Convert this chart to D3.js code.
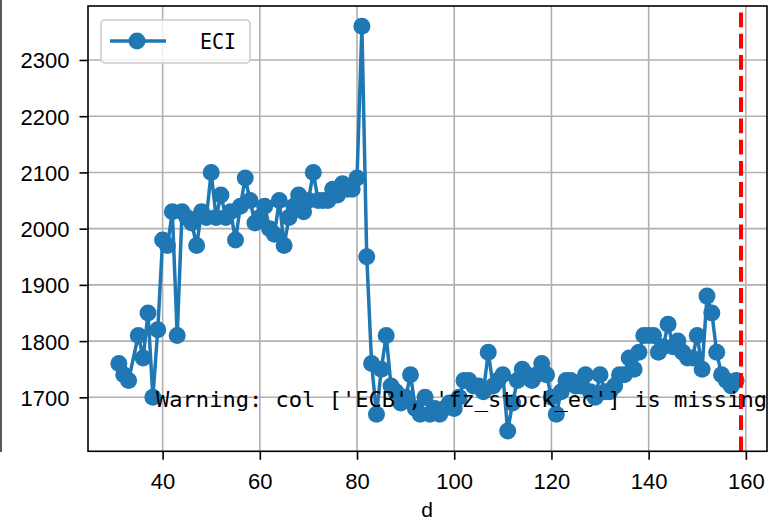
<!DOCTYPE html>
<html>
<head>
<meta charset="utf-8">
<script src="https://cdn.jsdelivr.net/npm/d3@7"></script>
<style>
  html, body { margin: 0; padding: 0; background: #fff; }
  svg { display: block; }
</style>
</head>
<body>
<svg id="chart" width="775" height="522"></svg>
<script>
// ---- data ----
const days = [31, 32, 33].concat(d3.range(35, 159)); // 31..158, no 34
const eciValues = [
  1760, 1740, 1730,                                           // 31-33
  1810, 1770, 1850, 1700, 1820, 1980,                         // 35-40
  1970, 2030, 1810, 2030, 2020, 2010, 1970, 2030, 2020, 2100, // 41-50
  2020, 2060, 2020, 2030, 1980, 2040, 2090, 2050, 2010, 2020, // 51-60
  2040, 2000, 1990, 2050, 1970, 2020, 2040, 2060, 2030, 2050, // 61-70
  2100, 2050, 2050, 2050, 2070, 2060, 2080, 2070, 2070, 2090, // 71-80
  2360, 1950, 1760, 1670, 1750, 1810, 1720, 1710, 1690, 1700, // 81-90
  1740, 1680, 1670, 1700, 1670, 1680, 1670, 1680, 1690, 1680, // 91-100
  1700, 1730, 1730, 1720, 1720, 1710, 1780, 1720, 1730, 1740, // 101-110
  1640, 1690, 1730, 1750, 1740, 1730, 1740, 1760, 1740, 1700, // 111-120
  1670, 1710, 1730, 1730, 1720, 1720, 1740, 1710, 1700, 1740, // 121-130
  1710, 1710, 1720, 1740, 1740, 1770, 1750, 1780, 1810, 1810, // 131-140
  1810, 1780, 1790, 1830, 1790, 1800, 1780, 1770, 1770, 1810, // 141-150
  1750, 1880, 1850, 1780, 1740, 1730, 1720, 1730              // 151-158
];
const seriesName = "ECI";
const xTicks = [40, 60, 80, 100, 120, 140, 160];
const yTicks = [1700, 1800, 1900, 2000, 2100, 2200, 2300];
const markerDay = 159;
const xLabel = "d";
const warningText = "Warning: col ['ECB', 'fz_stock_ec'] is missing";

// ---- layout ----
const L = 88, R = 767, T = 6, B = 451.3;
const svg = d3.select("#chart");
const blue = "#1f77b4";

const points = days.map((d, i) => ({ d, v: eciValues[i] }));

function padded(ext) {
  const p = (ext[1] - ext[0]) * 0.05;
  return [ext[0] - p, ext[1] + p];
}
const x = d3.scaleLinear().domain(padded(d3.extent(days))).range([L, R]);
const y = d3.scaleLinear().domain(padded(d3.extent(eciValues))).range([B, T]);

// stray left border line
svg.append("line").attr("x1", 1).attr("x2", 1).attr("y1", 0).attr("y2", 452)
  .attr("stroke", "#222").attr("stroke-width", 1.5);

// grid
const grid = svg.append("g");
grid.selectAll(".gx").data(xTicks).join("line")
  .attr("x1", d => x(d)).attr("x2", d => x(d)).attr("y1", T).attr("y2", B)
  .attr("stroke", "#b0b0b0").attr("stroke-width", 1.6);
grid.selectAll(".gy").data(yTicks).join("line")
  .attr("x1", L).attr("x2", R).attr("y1", d => y(d)).attr("y2", d => y(d))
  .attr("stroke", "#b0b0b0").attr("stroke-width", 1.6);

// series
const line = d3.line().x(p => x(p.d)).y(p => y(p.v));
svg.append("path").datum(points).attr("d", line)
  .attr("fill", "none").attr("stroke", blue).attr("stroke-width", 3.5)
  .attr("stroke-linejoin", "round");
svg.append("g").selectAll("circle").data(points).join("circle")
  .attr("cx", p => x(p.d)).attr("cy", p => y(p.v)).attr("r", 8.5)
  .attr("fill", blue);

// red dashed vertical line (drawn bottom-up so dashes start at bottom)
svg.append("line")
  .attr("x1", x(markerDay)).attr("x2", x(markerDay)).attr("y1", B).attr("y2", T)
  .attr("stroke", "#ff0000").attr("stroke-width", 4)
  .attr("stroke-dasharray", "14.8,6.4");

// warning text
svg.append("text").attr("x", 156).attr("y", 407)
  .attr("font-family", "DejaVu Sans Mono").attr("font-size", 22)
  .attr("textLength", 611).attr("lengthAdjust", "spacingAndGlyphs")
  .attr("fill", "#000").text(warningText);

// axes
const xAxis = d3.axisBottom(x).tickValues(xTicks).tickSize(8.5).tickPadding(10).tickFormat(d3.format("d"));
const yAxis = d3.axisLeft(y).tickValues(yTicks).tickSize(8.5).tickPadding(10).tickFormat(d3.format("d"));
const gx = svg.append("g").attr("transform", `translate(0,${B})`).call(xAxis);
const gy = svg.append("g").attr("transform", `translate(${L},0)`).call(yAxis);
[gx, gy].forEach(g => {
  g.select(".domain").remove();
  g.selectAll(".tick line").attr("stroke", "#000").attr("stroke-width", 1.6);
  g.selectAll(".tick text").attr("fill", "#000")
    .attr("font-family", "Liberation Sans, Arial, sans-serif").attr("font-size", 22);
});
gx.selectAll(".tick text").attr("dy", null).attr("y", 38);
gy.selectAll(".tick text").attr("dy", "0.36em");

// spines
svg.append("rect").attr("x", L).attr("y", T).attr("width", R - L).attr("height", B - T)
  .attr("fill", "none").attr("stroke", "#000").attr("stroke-width", 1.6);

// x label
svg.append("text").attr("x", (L + R) / 2 - 0.5).attr("y", 517).attr("text-anchor", "middle")
  .attr("font-family", "Liberation Sans, Arial, sans-serif").attr("font-size", 21)
  .attr("fill", "#000").text(xLabel);

// legend
const lg = svg.append("g");
lg.append("rect").attr("x", 101).attr("y", 20).attr("width", 149).attr("height", 43)
  .attr("rx", 4).attr("fill", "#fff").attr("fill-opacity", 0.8)
  .attr("stroke", "#cccccc").attr("stroke-width", 1.6);
lg.append("line").attr("x1", 110).attr("x2", 166).attr("y1", 41).attr("y2", 41)
  .attr("stroke", blue).attr("stroke-width", 3.5);
lg.append("circle").attr("cx", 137).attr("cy", 41).attr("r", 8.5).attr("fill", blue);
lg.append("text").attr("x", 200).attr("y", 49)
  .attr("font-family", "DejaVu Sans Mono").attr("font-size", 22)
  .attr("textLength", 36).attr("lengthAdjust", "spacingAndGlyphs")
  .attr("fill", "#000").text(seriesName);
</script>
</body>
</html>
